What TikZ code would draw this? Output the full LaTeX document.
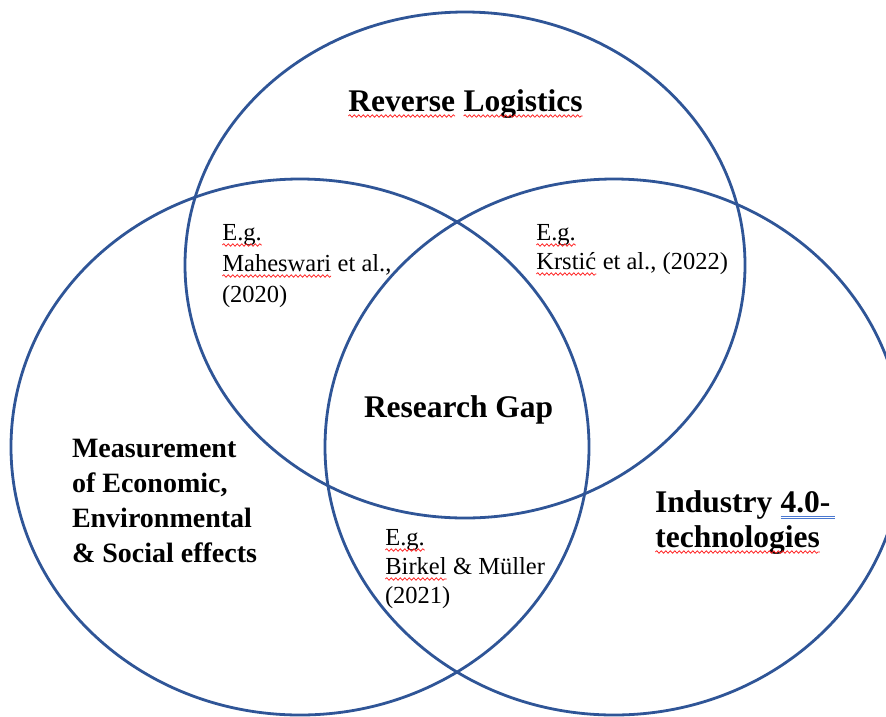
\documentclass[tikz,border=0pt]{standalone}
\usepackage{fontspec}
\setmainfont{Liberation Serif}
\usetikzlibrary{decorations.pathmorphing}

\definecolor{ringblue}{HTML}{2F5597}
\definecolor{spellred}{HTML}{FF2020}
\definecolor{gramblue}{HTML}{4A78D0}

% word with a red wavy proofing underline
\newcommand\spellmark[1]{\tikz[baseline=(w.base)]{%
  \node[inner sep=0pt,outer sep=0pt,anchor=base] (w) {#1};%
  \draw[draw=spellred,line width=0.75pt,line join=round,decorate,
        decoration={snake,amplitude=1.3pt,segment length=4.5pt}]
    ([yshift=-5pt]w.base west) -- ([yshift=-5pt]w.base east);}}
% word with a blue double underline
\newcommand\grammark[1]{\tikz[baseline=(w.base)]{%
  \node[inner sep=0pt,outer sep=0pt,anchor=base] (w) {#1};%
  \draw[draw=gramblue,line width=0.8pt]
    ([yshift=-4pt]w.base west) -- ([yshift=-4pt,xshift=5pt]w.base east)
    ([yshift=-6.5pt]w.base west) -- ([yshift=-6.5pt,xshift=5pt]w.base east);}}

\tikzset{
  ring/.style={draw=ringblue,line width=2.8pt},
  lbl/.style={inner sep=0pt,outer sep=0pt,anchor=base west,text=black},
  heading/.style={lbl,font=\fontsize{31.5}{36}\selectfont\bfseries},
  areatext/.style={lbl,font=\fontsize{28}{34}\selectfont\bfseries},
  cite/.style={lbl,font=\fontsize{24.5}{30}\selectfont},
}

\begin{document}
\begin{tikzpicture}[x=1pt,y=-1pt]
\useasboundingbox (0,0) rectangle (886,716);
\fill[white] (0,0) rectangle (886,716);

% the three sets
\draw[ring] (465,265) ellipse [x radius=280pt, y radius=253pt];
\draw[ring] (300,447) ellipse [x radius=289pt, y radius=268pt];
\draw[ring] (614,447) ellipse [x radius=289pt, y radius=268pt];

% set labels
\node[heading] (rl) at (348,111) {\spellmark{Reverse} \spellmark{Logistics}};
\node[heading] (gap) at (364,417) {Research Gap};

\node[areatext] (m1) at (72,457) {Measurement};
\node[areatext] (m2) at (72,492) {of Economic,};
\node[areatext] (m3) at (72,527) {Environmental};
\node[areatext] (m4) at (72,562) {\& Social effects};

\node[heading] (i1) at (655,512) {Industry \grammark{4.0-}};
\node[heading] (i2) at (655,547) {\spellmark{technologies}};

% example references in the pairwise overlaps
\node[cite] (a1) at (222,240) {\spellmark{E.g.}};
\node[cite] (a2) at (222,271) {\spellmark{Maheswari} et al.,};
\node[cite] (a3) at (222,302) {(2020)};

\node[cite] (b1) at (536,240) {\spellmark{E.g.}};
\node[cite] (b2) at (536,269) {\spellmark{Krstić} et al., (2022)};

\node[cite] (c1) at (385,545) {\spellmark{E.g.}};
\node[cite] (c2) at (385,574) {\spellmark{Birkel} \& Müller};
\node[cite] (c3) at (385,603) {(2021)};
\end{tikzpicture}
\end{document}
